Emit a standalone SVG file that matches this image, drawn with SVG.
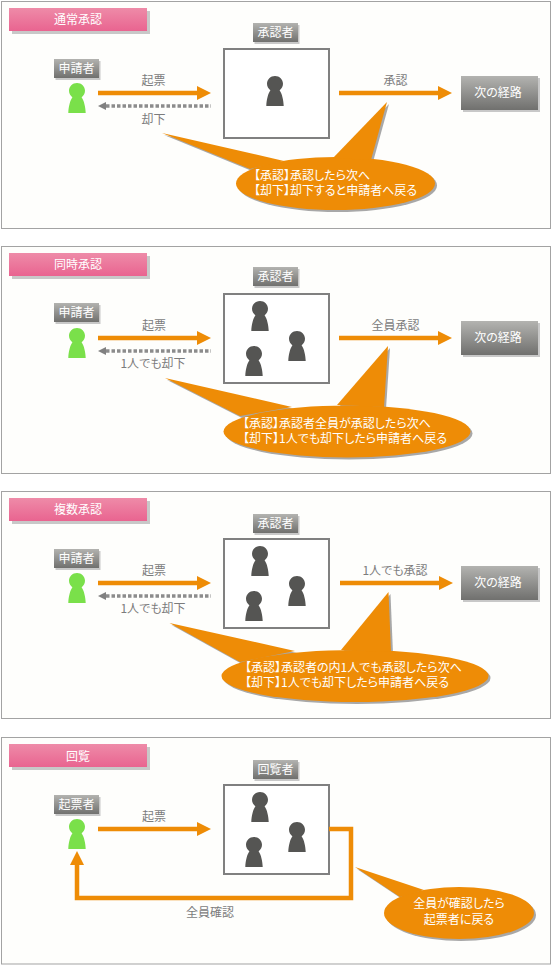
<svg xmlns="http://www.w3.org/2000/svg" width="551" height="965" viewBox="0 0 551 965">
<style>
text{font-family:"Noto Sans CJK JP","Noto Sans",sans-serif;font-size:12px;text-anchor:middle;font-feature-settings:"palt"}
.panel{fill:#fefefc;stroke:#a3a3a3;stroke-width:1}
.lbl{fill:#7c7c7c}
.w{fill:#fff}
.s{fill:#fff;text-anchor:start}
.box{fill:#fff;stroke:#808080;stroke-width:2}
.or{fill:#ee8c06}
.line{fill:none;stroke:#ee8c06;stroke-width:4.5}
.dash{fill:none;stroke:#8c8c8c;stroke-width:3.5;stroke-dasharray:3.500 2}
.sh{fill:#a8a8a8}
.shs{fill:#c8c8c8}
.green{fill:#7ae04a}
.dark{fill:#555553}
</style>
<defs>
<linearGradient id="pink" x1="0" y1="0" x2="0" y2="1"><stop offset="0" stop-color="#ee8ba8"/><stop offset="1" stop-color="#e96490"/></linearGradient>
<linearGradient id="gray" x1="0" y1="0" x2="0" y2="1"><stop offset="0" stop-color="#b3b3b0"/><stop offset="1" stop-color="#70706e"/></linearGradient>
<path id="person" d="M0-18C4.500-18 8-14.500 8-10.200C8-7.500 6.500-5.300 4.600-3.800C7-.5 8.500 6 8.700 12H-8.700C-8.500 6-7-.5-4.600-3.800C-6.500-5.300-8-7.500-8-10.200C-8-14.500-4.500-18 0-18Z"/>
<marker id="ah" markerUnits="userSpaceOnUse" markerWidth="14" markerHeight="14" refX="0" refY="7" orient="auto"><path d="M0 0L14 7L0 14Z" fill="#ee8c06"/></marker>
<marker id="ag" markerUnits="userSpaceOnUse" markerWidth="8" markerHeight="8" refX="8" refY="4" orient="auto"><path d="M0 4L8 0V8Z" fill="#808080"/></marker>
<g id="c1"><ellipse cx="335.500" cy="183.500" rx="99.500" ry="26.500"/><path d="M162 133L284 161L250 169Z"/><path d="M387 102L333 158L371 160Z"/></g>
<g id="c2"><ellipse cx="347" cy="431.500" rx="123.500" ry="26"/><path d="M165 378L292 407L240 416Z"/><path d="M388 346L337 405L384 407Z"/></g>
<g id="c3"><ellipse cx="355" cy="676" rx="133.500" ry="26"/><path d="M169.500 623L295 651L240 662Z"/><path d="M388.500 592L341 650L391 652Z"/></g>
<g id="c4"><ellipse cx="459" cy="913" rx="75" ry="26"/><path d="M355 867L424 890L400 897Z"/></g>
</defs>

<g id="panel1">
<rect class="panel" x="1.500" y="1.500" width="549" height="227"/>
<g id="title1"><rect class="shs" x="12" y="11" width="138" height="23"/><rect x="9" y="8" width="138" height="23" fill="url(#pink)"/><text class="w" x="78" y="24">通常承認</text></g>
<g id="applicant1"><rect class="shs" x="55.500" y="61" width="45" height="19"/><rect x="54" y="59" width="45" height="19" fill="url(#gray)"/><text class="w" x="76.500" y="73">申請者</text></g>
<use id="person1a" href="#person" x="77" y="101" class="green"/>
<g id="approver1"><rect class="shs" x="254.500" y="25" width="45" height="19"/><rect x="253" y="23" width="45" height="19" fill="url(#gray)"/><text class="w" x="275.500" y="37">承認者</text></g>
<g id="box1"><rect class="box" x="224" y="49" width="105" height="89"/><use href="#person" x="275" y="94" class="dark"/></g>
<g id="next1"><rect class="shs" x="463" y="78" width="77" height="34"/><rect x="461" y="76" width="77" height="34" fill="url(#gray)"/><text class="w" x="498" y="97">次の経路</text></g>
<g id="conn1">
<line class="line" x1="98" y1="93" x2="197" y2="93" marker-end="url(#ah)"/>
<line class="dash" x1="106" y1="106" x2="211" y2="106" marker-start="url(#ag)"/>
<line class="line" x1="339" y1="93" x2="438" y2="93" marker-end="url(#ah)"/>
<text class="lbl" x="153.500" y="85">起票</text><text class="lbl" x="153.500" y="124">却下</text><text class="lbl" x="395.500" y="85">承認</text>
</g>
<g id="call1">
<use href="#c1" class="sh" x="2" y="2"/><use href="#c1" class="or"/>
<text class="s"><tspan x="254" y="180">【承認】承認したら次へ</tspan><tspan x="254" y="195">【却下】却下すると申請者へ戻る</tspan></text>
</g>
</g>

<g id="panel2">
<rect class="panel" x="1.500" y="246.500" width="549" height="227"/>
<g id="title2"><rect class="shs" x="12" y="256" width="138" height="23"/><rect x="9" y="253" width="138" height="23" fill="url(#pink)"/><text class="w" x="78" y="269">同時承認</text></g>
<g id="applicant2"><rect class="shs" x="55.500" y="305" width="45" height="19"/><rect x="54" y="303" width="45" height="19" fill="url(#gray)"/><text class="w" x="76.500" y="317">申請者</text></g>
<use href="#person" x="77" y="346" class="green"/>
<g id="approver2"><rect class="shs" x="254.500" y="269" width="45" height="19"/><rect x="253" y="267" width="45" height="19" fill="url(#gray)"/><text class="w" x="275.500" y="281">承認者</text></g>
<g id="box2"><rect class="box" x="224" y="294" width="105" height="89"/><use href="#person" x="260" y="319" class="dark"/><use href="#person" x="297" y="349" class="dark"/><use href="#person" x="254" y="364" class="dark"/></g>
<g id="next2"><rect class="shs" x="463" y="323" width="77" height="34"/><rect x="461" y="321" width="77" height="34" fill="url(#gray)"/><text class="w" x="498" y="342">次の経路</text></g>
<g id="conn2">
<line class="line" x1="98" y1="338" x2="197" y2="338" marker-end="url(#ah)"/>
<line class="dash" x1="106" y1="351" x2="211" y2="351" marker-start="url(#ag)"/>
<line class="line" x1="339" y1="338" x2="438" y2="338" marker-end="url(#ah)"/>
<text class="lbl" x="154" y="330">起票</text><text class="lbl" x="153" y="368">1人でも却下</text><text class="lbl" x="395.500" y="330">全員承認</text>
</g>
<g id="call2">
<use href="#c2" class="sh" x="2" y="2"/><use href="#c2" class="or"/>
<text class="s"><tspan x="243" y="428">【承認】承認者全員が承認したら次へ</tspan><tspan x="243" y="443">【却下】1人でも却下したら申請者へ戻る</tspan></text>
</g>
</g>

<g id="panel3">
<rect class="panel" x="1.500" y="491.500" width="549" height="227"/>
<g id="title3"><rect class="shs" x="12" y="501" width="138" height="23"/><rect x="9" y="498" width="138" height="23" fill="url(#pink)"/><text class="w" x="78" y="514">複数承認</text></g>
<g id="applicant3"><rect class="shs" x="55.500" y="551" width="45" height="19"/><rect x="54" y="549" width="45" height="19" fill="url(#gray)"/><text class="w" x="76.500" y="563">申請者</text></g>
<use href="#person" x="77" y="591" class="green"/>
<g id="approver3"><rect class="shs" x="254.500" y="516" width="45" height="19"/><rect x="253" y="514" width="45" height="19" fill="url(#gray)"/><text class="w" x="275.500" y="528">承認者</text></g>
<g id="box3"><rect class="box" x="224" y="539" width="105" height="89"/><use href="#person" x="260" y="564" class="dark"/><use href="#person" x="297" y="594" class="dark"/><use href="#person" x="254" y="609" class="dark"/></g>
<g id="next3"><rect class="shs" x="463" y="568" width="77" height="34"/><rect x="461" y="566" width="77" height="34" fill="url(#gray)"/><text class="w" x="498" y="587">次の経路</text></g>
<g id="conn3">
<line class="line" x1="98" y1="583" x2="197" y2="583" marker-end="url(#ah)"/>
<line class="dash" x1="106" y1="596" x2="211" y2="596" marker-start="url(#ag)"/>
<line class="line" x1="340" y1="583" x2="439" y2="583" marker-end="url(#ah)"/>
<text class="lbl" x="154" y="575">起票</text><text class="lbl" x="153" y="613">1人でも却下</text><text class="lbl" x="395" y="575">1人でも承認</text>
</g>
<g id="call3">
<use href="#c3" class="sh" x="2" y="2"/><use href="#c3" class="or"/>
<text class="s"><tspan x="245" y="672">【承認】承認者の内1人でも承認したら次へ</tspan><tspan x="245" y="687">【却下】1人でも却下したら申請者へ戻る</tspan></text>
</g>
</g>

<g id="panel4">
<rect class="panel" x="1.500" y="737.500" width="549" height="226.500"/>
<g id="title4"><rect class="shs" x="12" y="747" width="138" height="23"/><rect x="9" y="744" width="138" height="23" fill="url(#pink)"/><text class="w" x="78" y="761">回覧</text></g>
<g id="applicant4"><rect class="shs" x="55.500" y="797" width="45" height="19"/><rect x="54" y="795" width="45" height="19" fill="url(#gray)"/><text class="w" x="76.500" y="809">起票者</text></g>
<use href="#person" x="77" y="837" class="green"/>
<g id="approver4"><rect class="shs" x="254.500" y="762" width="45" height="19"/><rect x="253" y="760" width="45" height="19" fill="url(#gray)"/><text class="w" x="275.500" y="774">回覧者</text></g>
<g id="box4"><rect class="box" x="224" y="785" width="105" height="89"/><use href="#person" x="260" y="810" class="dark"/><use href="#person" x="297" y="840" class="dark"/><use href="#person" x="254" y="855" class="dark"/></g>
<g id="conn4">
<line class="line" x1="98" y1="829" x2="197" y2="829" marker-end="url(#ah)"/>
<path class="line" d="M329 829H351V898H77V865" marker-end="url(#ah)"/>
<text class="lbl" x="154" y="821">起票</text><text class="lbl" x="210" y="917">全員確認</text>
</g>
<g id="call4">
<use href="#c4" class="sh" x="2" y="2"/><use href="#c4" class="or"/>
<text class="w"><tspan x="459" y="908">全員が確認したら</tspan><tspan x="459" y="924">起票者に戻る</tspan></text>
</g>
</g>
</svg>
